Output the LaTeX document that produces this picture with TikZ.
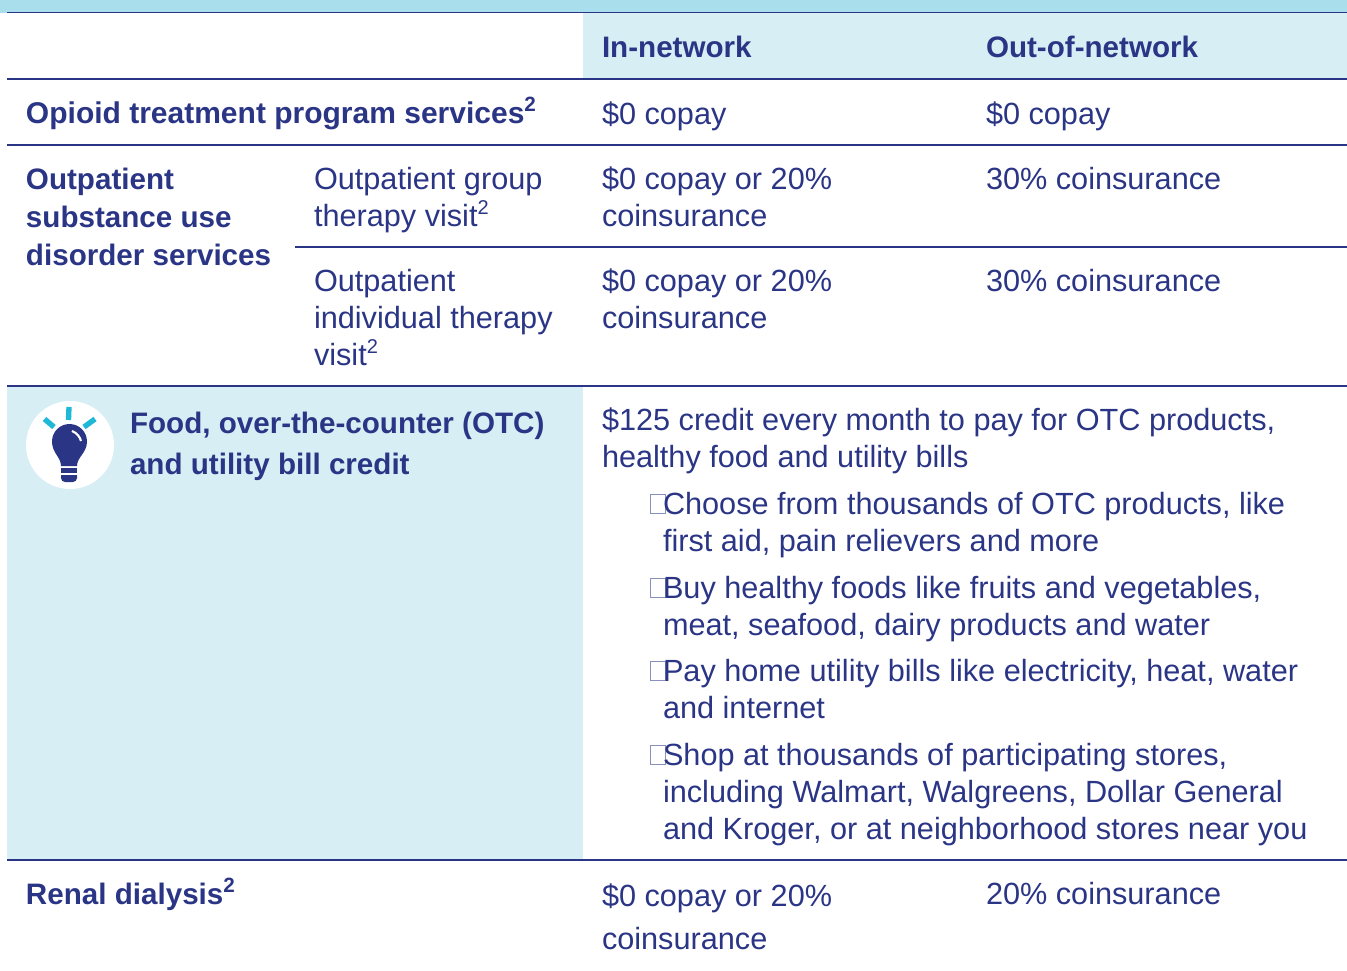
\documentclass[tikz,border=0pt]{standalone}
\usepackage{fontspec}
\setmainfont{Liberation Sans}
\definecolor{navy}{HTML}{2A3585}
\definecolor{band}{HTML}{A9DEED}
\definecolor{pale}{HTML}{D7EEF5}
\definecolor{ray}{HTML}{1FB8D6}
\newcommand{\supr}[1]{\raisebox{9pt}{\fontsize{15}{16}\selectfont #1}}
\newcommand{\supb}[1]{\raisebox{9pt}{\fontsize{15.5}{16}\selectfont\bfseries #1}}
\newcommand{\fl}{\rule{0pt}{20pt}}
\tikzset{
  x=.75pt,y=-.75pt,
  cell/.style={anchor=north west,inner sep=0pt,outer sep=0pt,align=left,text=navy,yshift=20pt},
  body/.style={cell,font=\fontsize{23}{27.75}\selectfont},
  head/.style={cell,font=\fontsize{22.2}{28.5}\selectfont\bfseries},
  rulel/.style={draw=navy,line width=.8pt},
  tick/.style={draw=navy!55,line width=.6pt,fill=none,inner sep=0pt,minimum width=11.6pt,minimum height=14pt,anchor=north west},
  rayl/.style={draw=ray,line width=4pt}
}
\begin{document}
\begin{tikzpicture}
\useasboundingbox (0,0) rectangle (1347,971);
\fill[band] (0,0) rectangle (1347,12.5);
\fill[pale] (583,13) rectangle (1347,79);
\fill[pale] (7,387) rectangle (583,860);
\draw[rulel] (7,12.5) -- (1347,12.5);
\draw[rulel] (7,79) -- (1347,79);
\draw[rulel] (7,145) -- (1347,145);
\draw[rulel] (295,247) -- (1347,247);
\draw[rulel] (7,386) -- (1347,386);
\draw[rulel] (7,860) -- (1347,860);

\node[head] (hin) at (602,57) {\fl In-network};
\node[head] (hout) at (986,57) {\fl Out-of-network};

\node[head,font=\fontsize{22.5}{28.5}\selectfont\bfseries] (opioid) at (26,123) {\fl Opioid treatment program services\supb{2}};
\node[body] (opin) at (602,124) {\fl \$0 copay};
\node[body] (opout) at (986,124) {\fl \$0 copay};

\node[head] (outp) at (26,189) {\fl Outpatient\\substance use\\disorder services};
\node[body] (grp) at (314,189) {\fl Outpatient group\\therapy visit\supr{2}};
\node[body] (grpin) at (602,189) {\fl \$0 copay or 20\%\\coinsurance};
\node[body] (grpout) at (986,189) {\fl 30\% coinsurance};
\node[body] (ind) at (314,291) {\fl Outpatient\\individual therapy\\visit\supr{2}};
\node[body] (indin) at (602,291) {\fl \$0 copay or 20\%\\coinsurance};
\node[body] (indout) at (986,291) {\fl 30\% coinsurance};

\node[circle,fill=white,inner sep=0pt,minimum size=66pt] (bulbbg) at (70,445) {};
\draw[rayl] (69,407) -- (68.5,420);
\draw[rayl] (44.5,419) -- (54,427);
\draw[rayl] (95,419) -- (84,427);
\fill[navy] (61,466) .. controls (61,457) and (52,453) .. (52,441.5)
  arc[start angle=180,end angle=360,radius=17.5]
  .. controls (87,453) and (77,457) .. (77,466) -- cycle;
\draw[white,line width=1.6pt] (72,431) .. controls (77,433) and (80,437) .. (81,441);
\fill[navy] (61,468) rectangle (77,473);
\fill[navy] (61,475) -- (77,475) -- (77,478) arc[start angle=0,end angle=90,radius=4] -- (65,482) arc[start angle=90,end angle=180,radius=4] -- cycle;

\node[cell,font=\fontsize{22.2}{30.75}\selectfont\bfseries] (food) at (130,433) {\fl Food, over-the-counter (OTC)\\and utility bill credit};
\node[body] (cred) at (602,430) {\fl \$125 credit every month to pay for OTC products,\\healthy food and utility bills};

\node[tick] (b1) at (649.5,494) {};
\node[body] (l1) at (663,514) {\fl Choose from thousands of OTC products, like\\first aid, pain relievers and more};
\node[tick] (b2) at (649.5,578) {};
\node[body] (l2) at (663,598) {\fl Buy healthy foods like fruits and vegetables,\\meat, seafood, dairy products and water};
\node[tick] (b3) at (649.5,661) {};
\node[body] (l3) at (663,681) {\fl Pay home utility bills like electricity, heat, water\\and internet};
\node[tick] (b4) at (649.5,745) {};
\node[body] (l4) at (663,765) {\fl Shop at thousands of participating stores,\\including Walmart, Walgreens, Dollar General\\and Kroger, or at neighborhood stores near you};

\node[head] (renal) at (26,904) {\fl Renal dialysis\supb{2}};
\node[cell,font=\fontsize{23}{32.25}\selectfont] (renin) at (602,906) {\fl \$0 copay or 20\%\\coinsurance};
\node[body] (renout) at (986,904) {\fl 20\% coinsurance};
\end{tikzpicture}
\end{document}
